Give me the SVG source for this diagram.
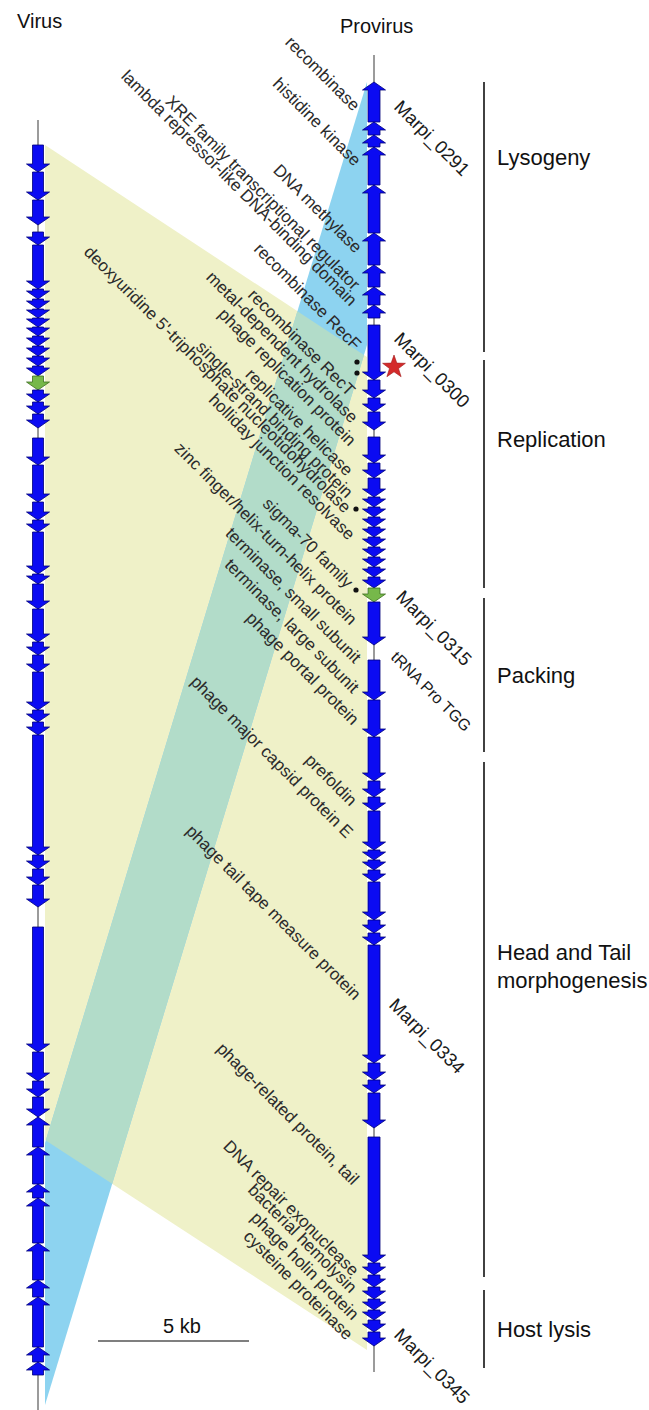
<svg xmlns="http://www.w3.org/2000/svg" width="649" height="1410" viewBox="0 0 649 1410">
<style>
.ax{stroke:#7a7a7a;stroke-width:1.5;fill:none}
.g{fill:#0b0bf2;stroke:#00007a;stroke-width:0.8}
.gg{fill:#76b84a;stroke:#3d6e1e;stroke-width:0.8}
.lab{font-family:"Liberation Sans",Arial,sans-serif;font-size:17px;fill:#2b2b2b}
.mar{font-family:"Liberation Sans",Arial,sans-serif;font-size:18.5px;fill:#1a1a1a}
.cat{font-family:"Liberation Sans",Arial,sans-serif;font-size:22px;fill:#111}
.ttl{font-family:"Liberation Sans",Arial,sans-serif;font-size:20px;fill:#111}
.br{stroke:#111;stroke-width:1.6}
</style>
<rect width="649" height="1410" fill="#ffffff"/>

<g id="shading">
<polygon points="45,145 367,357 367,1350 45,1140" fill="#eff1c8"/>
<polygon points="367,82 367,345 45,1405 45,1143" fill="#8dd3f0"/>
<polygon points="297.4,311.2 364,355 112.2,1183.8 45.8,1140.5" fill="#b2dcc9"/>
</g>

<g id="titles">
<text class="ttl" x="17" y="28">Virus</text>
<text class="ttl" x="340" y="33">Provirus</text>
</g>

<g id="virus-track">
<line class="ax" x1="38" y1="120" x2="38" y2="1410"/>
<path class="g" d="M32.5 145H43.5V164H49.5L38 172L26.5 164H32.5Z"/>
<path class="g" d="M32.5 172H43.5V192H49.5L38 200L26.5 192H32.5Z"/>
<path class="g" d="M32.5 200H43.5V217H49.5L38 225L26.5 217H32.5Z"/>
<path class="g" d="M32.5 232H43.5V237H49.5L38 245L26.5 237H32.5Z"/>
<path class="g" d="M32.5 245H43.5V281H49.5L38 289L26.5 281H32.5Z"/>
<path class="g" d="M32.5 289H43.5V291H49.5L38 299L26.5 291H32.5Z"/>
<path class="g" d="M32.5 299H43.5V301H49.5L38 309L26.5 301H32.5Z"/>
<path class="g" d="M32.5 309H43.5V310H49.5L38 318L26.5 310H32.5Z"/>
<path class="g" d="M32.5 318H43.5V319H49.5L38 327L26.5 319H32.5Z"/>
<path class="g" d="M32.5 327H43.5V328H49.5L38 336L26.5 328H32.5Z"/>
<path class="g" d="M32.5 336H43.5V338H49.5L38 346L26.5 338H32.5Z"/>
<path class="g" d="M32.5 346H43.5V348H49.5L38 356L26.5 348H32.5Z"/>
<path class="g" d="M32.5 356H43.5V358H49.5L38 366L26.5 358H32.5Z"/>
<path class="g" d="M32.5 366H43.5V368H49.5L38 376L26.5 368H32.5Z"/>
<path class="gg" d="M32.5 376H43.5V382H49.5L38 390L26.5 382H32.5Z"/>
<path class="g" d="M32.5 390H43.5V394H49.5L38 402L26.5 394H32.5Z"/>
<path class="g" d="M32.5 402H43.5V406H49.5L38 414L26.5 406H32.5Z"/>
<path class="g" d="M32.5 414H43.5V420H49.5L38 428L26.5 420H32.5Z"/>
<path class="g" d="M32.5 438H43.5V457H49.5L38 465L26.5 457H32.5Z"/>
<path class="g" d="M32.5 465H43.5V494H49.5L38 502L26.5 494H32.5Z"/>
<path class="g" d="M32.5 502H43.5V512H49.5L38 520L26.5 512H32.5Z"/>
<path class="g" d="M32.5 520H43.5V524H49.5L38 532L26.5 524H32.5Z"/>
<path class="g" d="M32.5 532H43.5V566H49.5L38 574L26.5 566H32.5Z"/>
<path class="g" d="M32.5 574H43.5V576H49.5L38 584L26.5 576H32.5Z"/>
<path class="g" d="M32.5 584H43.5V601H49.5L38 609L26.5 601H32.5Z"/>
<path class="g" d="M32.5 609H43.5V634H49.5L38 642L26.5 634H32.5Z"/>
<path class="g" d="M32.5 642H43.5V647H49.5L38 655L26.5 647H32.5Z"/>
<path class="g" d="M32.5 655H43.5V664H49.5L38 672L26.5 664H32.5Z"/>
<path class="g" d="M32.5 672H43.5V702H49.5L38 710L26.5 702H32.5Z"/>
<path class="g" d="M32.5 710H43.5V714H49.5L38 722L26.5 714H32.5Z"/>
<path class="g" d="M32.5 722H43.5V727H49.5L38 735L26.5 727H32.5Z"/>
<path class="g" d="M32.5 735H43.5V847H49.5L38 855L26.5 847H32.5Z"/>
<path class="g" d="M32.5 855H43.5V861H49.5L38 869L26.5 861H32.5Z"/>
<path class="g" d="M32.5 869H43.5V877H49.5L38 885L26.5 877H32.5Z"/>
<path class="g" d="M32.5 885H43.5V899H49.5L38 907L26.5 899H32.5Z"/>
<path class="g" d="M32.5 927H43.5V1044H49.5L38 1052L26.5 1044H32.5Z"/>
<path class="g" d="M32.5 1052H43.5V1073H49.5L38 1081L26.5 1073H32.5Z"/>
<path class="g" d="M32.5 1081H43.5V1089H49.5L38 1097L26.5 1089H32.5Z"/>
<path class="g" d="M32.5 1097H43.5V1109H49.5L38 1117L26.5 1109H32.5Z"/>
<path class="g" d="M38 1117L49.5 1125H43.5V1147H32.5V1125H26.5Z"/>
<path class="g" d="M38 1147L49.5 1155H43.5V1184H32.5V1155H26.5Z"/>
<path class="g" d="M38 1184L49.5 1192H43.5V1198H32.5V1192H26.5Z"/>
<path class="g" d="M38 1198L49.5 1206H43.5V1243H32.5V1206H26.5Z"/>
<path class="g" d="M38 1243L49.5 1251H43.5V1280H32.5V1251H26.5Z"/>
<path class="g" d="M38 1280L49.5 1288H43.5V1297H32.5V1288H26.5Z"/>
<path class="g" d="M38 1297L49.5 1305H43.5V1347H32.5V1305H26.5Z"/>
<path class="g" d="M38 1347L49.5 1355H43.5V1362H32.5V1355H26.5Z"/>
<path class="g" d="M38 1362L49.5 1370H43.5V1375H32.5V1370H26.5Z"/>
</g>

<g id="provirus-track">
<line class="ax" x1="374" y1="55" x2="374" y2="1372"/>
<path class="g" d="M374 82L385.5 90H380V122H368V90H362.5Z"/>
<path class="g" d="M374 122L385.5 130H380V135H368V130H362.5Z"/>
<path class="g" d="M374 135L385.5 143H380V147H368V143H362.5Z"/>
<path class="g" d="M374 147L385.5 155H380V185H368V155H362.5Z"/>
<path class="g" d="M374 185L385.5 193H380V233H368V193H362.5Z"/>
<path class="g" d="M374 233L385.5 241H380V265H368V241H362.5Z"/>
<path class="g" d="M374 265L385.5 273H380V287H368V273H362.5Z"/>
<path class="g" d="M374 287L385.5 295H380V305H368V295H362.5Z"/>
<path class="g" d="M374 305L385.5 313H380V318H368V313H362.5Z"/>
<path class="g" d="M368 325H380V372H385.5L374 380L362.5 372H368Z"/>
<path class="g" d="M368 380H380V390H385.5L374 398L362.5 390H368Z"/>
<path class="g" d="M368 398H380V404H385.5L374 412L362.5 404H368Z"/>
<path class="g" d="M368 412H380V422H385.5L374 430L362.5 422H368Z"/>
<path class="g" d="M368 437H380V455H385.5L374 463L362.5 455H368Z"/>
<path class="g" d="M368 463H380V470H385.5L374 478L362.5 470H368Z"/>
<path class="g" d="M368 478H380V489H385.5L374 497L362.5 489H368Z"/>
<path class="g" d="M368 497H380V499H385.5L374 507L362.5 499H368Z"/>
<path class="g" d="M368 507H380V509H385.5L374 517L362.5 509H368Z"/>
<path class="g" d="M368 517H380V519H385.5L374 527L362.5 519H368Z"/>
<path class="g" d="M368 527H380V529H385.5L374 537L362.5 529H368Z"/>
<path class="g" d="M368 537H380V539H385.5L374 547L362.5 539H368Z"/>
<path class="g" d="M368 547H380V549H385.5L374 557L362.5 549H368Z"/>
<path class="g" d="M368 557H380V559H385.5L374 567L362.5 559H368Z"/>
<path class="g" d="M368 567H380V569H385.5L374 577L362.5 569H368Z"/>
<path class="g" d="M368 577H380V580H385.5L374 588L362.5 580H368Z"/>
<path class="gg" d="M368 588H380V594H385.5L374 602L362.5 594H368Z"/>
<path class="g" d="M368 602H380V637H385.5L374 645L362.5 637H368Z"/>
<path class="g" d="M368 660H380V692H385.5L374 700L362.5 692H368Z"/>
<path class="g" d="M368 700H380V729H385.5L374 737L362.5 729H368Z"/>
<path class="g" d="M368 737H380V773H385.5L374 781L362.5 773H368Z"/>
<path class="g" d="M368 781H380V789H385.5L374 797L362.5 789H368Z"/>
<path class="g" d="M368 797H380V803H385.5L374 811L362.5 803H368Z"/>
<path class="g" d="M368 811H380V842H385.5L374 850L362.5 842H368Z"/>
<path class="g" d="M368 850H380V852H385.5L374 860L362.5 852H368Z"/>
<path class="g" d="M368 860H380V862H385.5L374 870L362.5 862H368Z"/>
<path class="g" d="M368 870H380V874H385.5L374 882L362.5 874H368Z"/>
<path class="g" d="M368 882H380V912H385.5L374 920L362.5 912H368Z"/>
<path class="g" d="M368 920H380V925H385.5L374 933L362.5 925H368Z"/>
<path class="g" d="M368 933H380V937H385.5L374 945L362.5 937H368Z"/>
<path class="g" d="M368 945H380V1055H385.5L374 1063L362.5 1055H368Z"/>
<path class="g" d="M368 1063H380V1072H385.5L374 1080L362.5 1072H368Z"/>
<path class="g" d="M368 1080H380V1085H385.5L374 1093L362.5 1085H368Z"/>
<path class="g" d="M368 1093H380V1120H385.5L374 1128L362.5 1120H368Z"/>
<path class="g" d="M368 1137H380V1255H385.5L374 1263L362.5 1255H368Z"/>
<path class="g" d="M368 1263H380V1267H385.5L374 1275L362.5 1267H368Z"/>
<path class="g" d="M368 1275H380V1279H385.5L374 1287L362.5 1279H368Z"/>
<path class="g" d="M368 1287H380V1291H385.5L374 1299L362.5 1291H368Z"/>
<path class="g" d="M368 1299H380V1302H385.5L374 1310L362.5 1302H368Z"/>
<path class="g" d="M368 1310H380V1312H385.5L374 1320L362.5 1312H368Z"/>
<path class="g" d="M368 1320H380V1324H385.5L374 1332L362.5 1324H368Z"/>
<path class="g" d="M368 1332H380V1338H385.5L374 1346L362.5 1338H368Z"/>
</g>

<g id="markers">
<circle cx="357" cy="362" r="2.6" fill="#111"/>
<circle cx="357" cy="373" r="2.6" fill="#111"/>
<circle cx="356" cy="509" r="2.6" fill="#111"/>
<circle cx="356" cy="590" r="2.6" fill="#111"/>
<polygon id="star" transform="translate(394,367)" points="0,-12 2.8,-3.9 11.4,-3.7 4.5,1.5 7.1,9.7 0,4.8 -7.1,9.7 -4.5,1.5 -11.4,-3.7 -2.8,-3.9" fill="#d42b2b" stroke="#a01818" stroke-width="0.6"/>
</g>

<g id="gene-labels" class="lab" text-anchor="end">
<text transform="translate(353,112) rotate(45)">recombinase</text>
<text transform="translate(354,167) rotate(45)">histidine kinase</text>
<text transform="translate(355,254) rotate(45)">DNA methylase</text>
<text transform="translate(353,291) rotate(45)">XRE family transcriptional regulator</text>
<text transform="translate(350,307) rotate(45)">lambda repressor-like DNA-binding domain</text>
<text transform="translate(354,351) rotate(45)">recombinase RecF</text>
<text transform="translate(348,397) rotate(45)">recombinase RecT</text>
<text transform="translate(351,424) rotate(45)">metal-dependent hydrolase</text>
<text transform="translate(349,447) rotate(45)">phage replication protein</text>
<text transform="translate(346,477) rotate(45)">replicative helicase</text>
<text transform="translate(346,499) rotate(45)">single-strand binding protein</text>
<text transform="translate(344,514) rotate(45)">deoxyuridine 5'-triphosphate nucleotidohydrolase</text>
<text transform="translate(348,541) rotate(45)">holliday junction resolvase</text>
<text transform="translate(346,589) rotate(45)">sigma-70 family</text>
<text transform="translate(350,626) rotate(45)">zinc finger/helix-turn-helix protein</text>
<text transform="translate(354,664) rotate(45)">terminase, small subunit</text>
<text transform="translate(352,694) rotate(45)">terminase, large subunit</text>
<text transform="translate(352,726) rotate(45)">phage portal protein</text>
<text transform="translate(350,807) rotate(45)">prefoldin</text>
<text transform="translate(346,839) rotate(45)">phage major capsid protein E</text>
<text transform="translate(354,1001) rotate(45)">phage tail tape measure protein</text>
<text transform="translate(352,1186) rotate(45)">phage-related protein, tail</text>
<text transform="translate(352,1277) rotate(45)">DNA repair exonuclease</text>
<text transform="translate(350,1294) rotate(45)">bacterial hemolysin</text>
<text transform="translate(352,1321) rotate(45)">phage holin protein</text>
<text transform="translate(346,1341) rotate(45)">cysteine proteinase</text>
</g>

<g id="locus-labels" class="mar">
<text transform="translate(393,108) rotate(45)">Marpi_0291</text>
<text transform="translate(393,340) rotate(45)">Marpi_0300</text>
<text transform="translate(395,598) rotate(45)">Marpi_0315</text>
<text transform="translate(388,1006) rotate(45)">Marpi_0334</text>
<text transform="translate(393,1336) rotate(45)">Marpi_0345</text>
<text transform="translate(390,658) rotate(45)" style="font-size:16px">tRNA Pro TGG</text>
</g>

<g id="categories">
<line class="br" x1="484" y1="82" x2="484" y2="352"/>
<line class="br" x1="484" y1="360" x2="484" y2="588"/>
<line class="br" x1="484" y1="598" x2="484" y2="752"/>
<line class="br" x1="484" y1="762" x2="484" y2="1277"/>
<line class="br" x1="484" y1="1290" x2="484" y2="1368"/>
<text class="cat" x="497" y="165">Lysogeny</text>
<text class="cat" x="497" y="447">Replication</text>
<text class="cat" x="497" y="683">Packing</text>
<text class="cat" x="497" y="960">Head and Tail</text>
<text class="cat" x="497" y="988">morphogenesis</text>
<text class="cat" x="497" y="1337">Host lysis</text>
</g>

<g id="scale-bar">
<line x1="98" y1="1341" x2="249" y2="1341" stroke="#555" stroke-width="1.5"/>
<text class="ttl" x="182" y="1333" text-anchor="middle">5 kb</text>
</g>
</svg>
